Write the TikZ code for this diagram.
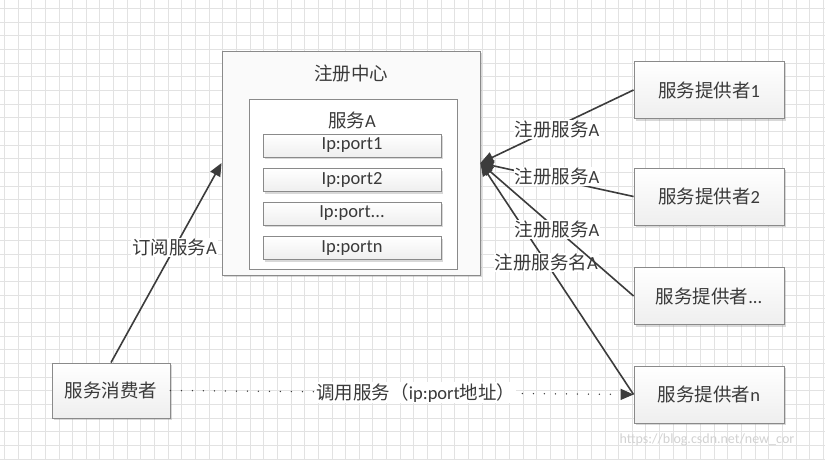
\documentclass[tikz,border=0pt]{standalone}
\usepackage{fontspec}
\setmainfont{Carlito}
\newfontfamily\cjk{Noto Sans CJK SC}
\usetikzlibrary{arrows.meta,shadows}
\definecolor{gridcol}{HTML}{E2E2E2}
\definecolor{edgecol}{HTML}{8A8A8A}
\definecolor{inkcol}{HTML}{3A3A3A}
\definecolor{linecol}{HTML}{3C3C3C}

\begin{document}
\begin{tikzpicture}[x=1pt,y=-1pt,
  gridline/.style={draw=gridcol, line width=0.8pt},
  shade/.style={drop shadow={shadow xshift=2pt,shadow yshift=-2pt,opacity=0.3}},
  box/.style={draw=edgecol, line width=0.9pt, top color=white, bottom color=gray!13, shade, text=inkcol, font=\fontsize{18.5}{21}\selectfont},
  portbox/.style={box, minimum width=178pt, minimum height=23pt, inner sep=0pt},
  provbox/.style={box, minimum width=150pt, minimum height=57pt},
  lbl/.style={fill=white, inner sep=1pt, text=inkcol, font=\fontsize{18.5}{21}\selectfont},
  link/.style={draw=linecol, line width=1.6pt, -{Triangle[length=13pt,width=11pt]}},
  call/.style={link, line width=1.5pt, line cap=round, dash pattern=on 0pt off 11pt}
]
\useasboundingbox (0,0) rectangle (825,460);
\fill[white] (0,0) rectangle (825,460);

% background grid
\foreach \gx in {4.3,17.95,...,825}
    \draw[gridline] (\gx,0) -- (\gx,460);
\foreach \gy in {8.5,22.15,...,460}
    \draw[gridline] (0,\gy) -- (825,\gy);

% registry
\node[draw=edgecol, line width=0.9pt, fill=gray!4, shade, minimum width=258pt, minimum height=224pt] (registry) at (351,163) {};
\node[lbl, fill=none] (regtitle) at (351,73) {\cjk 注册中心};
\node[draw=edgecol, line width=0.9pt, fill=white, minimum width=208pt, minimum height=170pt] (svcbox) at (353,184) {};
\node[lbl, fill=none] (svctitle) at (352,120) {{\cjk 服务}A};
\node[portbox] (port1) at (352,145.5) {Ip:port1};
\node[portbox] (port2) at (352,180) {Ip:port2};
\node[portbox] (port3) at (352,213.5) {Ip:port...};
\node[portbox] (portn) at (352,248) {Ip:portn};

% providers and consumer
\node[provbox] (prov1) at (709,90) {{\cjk 服务提供者}1};
\node[provbox] (prov2) at (709,196.5) {{\cjk 服务提供者}2};
\node[provbox] (prov3) at (709,296) {{\cjk 服务提供者}...};
\node[provbox] (provn) at (709,394.5) {{\cjk 服务提供者}n};
\node[box, minimum width=118pt, minimum height=55pt] (consumer) at (111,390.5) {\cjk 服务消费者};

% register
\draw[link] (provn.west) -- node[lbl, pos=0.57] {{\cjk 注册服务名}A} (registry.east);
\draw[link] (prov3.west) -- node[lbl] {{\cjk 注册服务}A} (registry.east);
\draw[link] (prov2.west) -- node[lbl, yshift=3pt] {{\cjk 注册服务}A} (registry.east);
\draw[link] (prov1.west) -- node[lbl, yshift=-3pt] {{\cjk 注册服务}A} (registry.east);

% subscribe and call
\draw[link] (consumer.north) -- node[lbl, pos=0.575] {{\cjk 订阅服务}A} (registry.west);
\draw[call] (consumer.east) -- node[lbl, pos=0.53] {{\cjk 调用服务（}ip:port{\cjk 地址）}} (provn.west);

\node[anchor=west, text=gray!35, font=\fontsize{14}{16}\selectfont] (mark) at (616,440) {https://blog.csdn.net/new\_cor};
\end{tikzpicture}
\end{document}
